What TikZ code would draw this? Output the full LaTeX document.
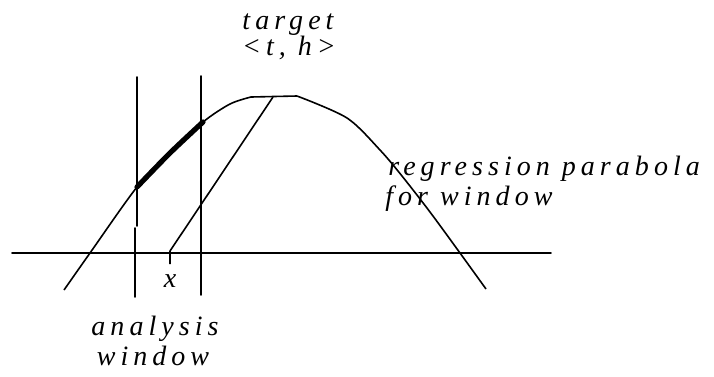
\documentclass[tikz,border=0pt]{standalone}
\usepackage{fontspec}
\newfontfamily\lblfont[LetterSpace=18]{Liberation Serif Italic}
\begin{document}
\begin{tikzpicture}[x=0.5pt,y=-0.5pt,
  thinline/.style={line width=0.9pt,line cap=round},
  curveline/.style={line width=0.8pt,line join=round},
  thickseg/.style={line width=2.6pt,line cap=round},
  lbl/.style={inner sep=0pt,font=\lblfont\fontsize{14}{15}\selectfont}]
\useasboundingbox (0,0) rectangle (714,376);
% axis
\coordinate (axL) at (12,253);
\coordinate (axR) at (551,253);
\draw[thinline] (axL) -- (axR);
% analysis window lines
\coordinate (w1t) at (137,77);
\coordinate (w1m) at (137,226);
\coordinate (w1n) at (135,228);
\coordinate (w1b) at (135,297);
\coordinate (w2t) at (201,76);
\coordinate (w2b) at (201,295);
\draw[thinline] (w1t) -- (w1m);
\draw[thinline] (w1n) -- (w1b);
\draw[thinline] (w2t) -- (w2b);
% regression parabola
\draw[curveline] plot[smooth,tension=0.5] coordinates
  {(64,290) (90,253) (137,187) (170,153) (203,122) (230,104) (251,97)}
  -- (297,96)
  plot[smooth,tension=0.5] coordinates
  {(297,96) (347,118) (380,150) (402,176) (430,212) (460,253) (486,289)};
% thick part within window
\draw[thickseg] plot[smooth,tension=0.5] coordinates
  {(137,187) (170,153) (203,122)};
% line from target to x
\coordinate (tgt) at (273,97);
\coordinate (xb) at (170,251);
\coordinate (xt) at (170,264);
\draw[curveline] (tgt) -- (xb) -- (xt);
% labels
\node[lbl,anchor=base] (xlab) at (170,287) {x};
\node[lbl,anchor=base] (target1) at (288,29) {target};
\node[lbl,anchor=base] (target2) at (289,55) {<t, h>};
\node[lbl,anchor=base west] (reg1) at (388,175) {regression parabola};
\node[lbl,anchor=base west] (reg2) at (385,205) {for window};
\node[lbl,anchor=base] (an1) at (155,335) {analysis};
\node[lbl,anchor=base] (an2) at (153,365) {window};
\end{tikzpicture}
\end{document}
